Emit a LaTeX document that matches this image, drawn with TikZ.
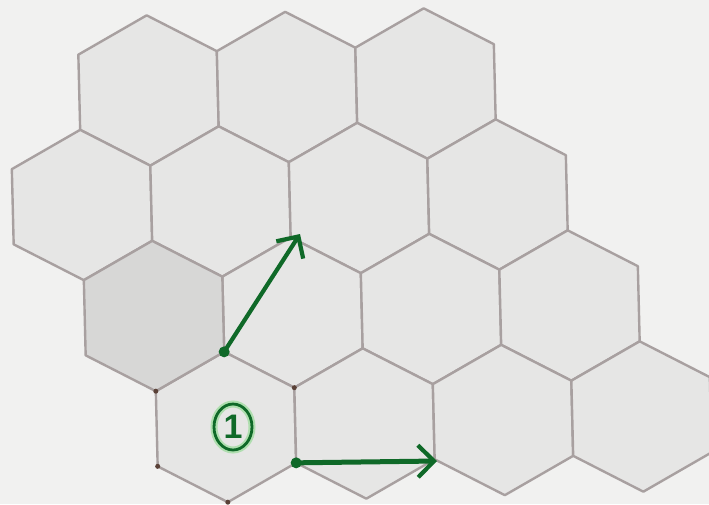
\documentclass[tikz,border=0pt]{standalone}
\usepackage{fontspec}
\newfontfamily\labelfont{Liberation Sans}
\usetikzlibrary{arrows.meta,shapes.geometric}
\definecolor{paper}{RGB}{241,241,240}
\definecolor{tile}{RGB}{230,230,229}
\definecolor{tiledark}{RGB}{215,215,214}
\definecolor{grout}{RGB}{168,160,160}
\definecolor{pen}{RGB}{15,105,40}
\definecolor{penhalo}{RGB}{175,222,175}
\definecolor{penmark}{RGB}{90,65,55}
\tikzset{
  hexface/.style={fill=tile, draw=grout, line width=2.4pt, line join=round},
  hexshade/.style={hexface, fill=tiledark},
  penarrow/.style={draw=pen, line width=4.2pt, line cap=round,
    -{Straight Barb[length=16pt,width=32pt,line width=4.2pt]}},
  pendot/.style={fill=pen},
  vertexmark/.style={fill=penmark},
  circlabel/.style={ellipse, draw=pen, line width=2.8pt, minimum width=38pt,
    minimum height=46pt, inner sep=0pt, text=pen,
    font=\labelfont\bfseries\fontsize{34}{34}\selectfont,
    preaction={draw=penhalo, line width=7pt}}
}
% hexagon in lattice coordinates: #1,#2 axial position, #3 name prefix, #4 style
\newcommand\hexat[4]{%
  \path[#4] ({#1+1/3},{#2+1/3}) coordinate (#3-lr)
    -- ({#1-1/3},{#2+2/3}) coordinate (#3-b)
    -- ({#1-2/3},{#2+1/3}) coordinate (#3-ll)
    -- ({#1-1/3},{#2-1/3}) coordinate (#3-ul)
    -- ({#1+1/3},{#2-2/3}) coordinate (#3-t)
    -- ({#1+2/3},{#2-1/3}) coordinate (#3-ur)
    -- cycle;}
\begin{document}
\begin{tikzpicture}[x={(138.5pt,3.5pt)}, y={(72pt,-111pt)}]
\fill[paper] (0pt,0pt) rectangle (709pt,-504pt);
\useasboundingbox (0pt,0pt) rectangle (709pt,-504pt);
\begin{scope}[shift={(82pt,-205pt)}]
  \foreach \a/\b/\n in {1/-1/A, 2/-1/B, 3/-1/C,
                        0/0/E, 1/0/F, 2/0/G, 3/0/H,
                        1/1/DB, 2/1/DC, 3/1/DD,
                        0/2/one, 1/2/RB, 2/2/RC, 3/2/RD}
    {\hexat{\a}{\b}{\n}{hexface}}
  \hexat{0}{1}{DA}{hexshade}
  \hexat{0}{2}{one}{draw=none}
  \hexat{1}{2}{RB}{draw=none}
\end{scope}
% pen marks on the vertices of tile 1
\fill[vertexmark] (one-ul) circle (2.5pt);
\fill[vertexmark] (one-ll) circle (2.5pt);
\fill[vertexmark] (one-b) circle (2.5pt);
\fill[vertexmark] (one-ur) circle (2.5pt);
% arrows
\coordinate (tipA) at (300pt,-234pt);
\coordinate (tipB) at (437pt,-461pt);
\draw[penarrow] (one-t) -- (tipA);
\draw[penarrow, line width=5pt] (one-lr) -- (tipB);
\fill[pendot] (one-t) circle (5.5pt);
\fill[pendot] (one-lr) circle (5.5pt);
% label
\node[circlabel] (lab) at (233pt,-427pt) {1};
\end{tikzpicture}
\end{document}
